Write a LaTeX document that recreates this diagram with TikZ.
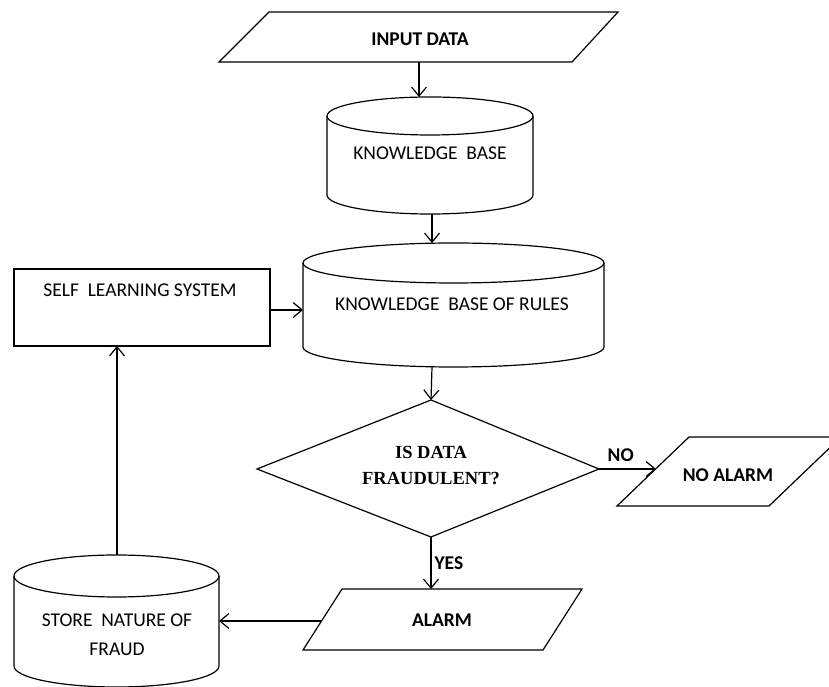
\documentclass[tikz,border=0pt]{standalone}
\usepackage{fontspec}
\setmainfont{Carlito}
\newfontfamily\serifx{Liberation Serif}
\usetikzlibrary{arrows.meta}
\begin{document}
\begin{tikzpicture}[x=1pt,y=1pt,
  shp/.style={draw=black, line width=1.2pt, line join=miter},
  conn/.style={draw=black, line width=1.2pt, -{Straight Barb[length=9pt,width=15pt,line width=1.2pt]}},
  lbl/.style={font=\fontsize{19.5}{23}\selectfont, inner sep=0pt, text=black},
  blbl/.style={font=\fontsize{19.5}{23}\selectfont\bfseries, inner sep=0pt, text=black},
  slbl/.style={font=\fontsize{18.5}{26}\selectfont\serifx\bfseries, inner sep=0pt, text=black, align=center}]
\useasboundingbox (0,0) rectangle (829,687);
\clip (0,0) rectangle (829,687);
\fill[white] (0,0) rectangle (829,687);

% INPUT DATA parallelogram
\draw[shp] (219,625) -- (269,675) -- (618,675) -- (572,625) -- cycle;
\node[blbl] (input) at (420,648) {INPUT DATA};
\coordinate (input-s) at (419,625);

% KNOWLEDGE BASE cylinder
\draw[shp] (430,571) ellipse [x radius=103, y radius=19];
\draw[shp] (327,571) -- (327,492) arc[start angle=180, end angle=360, x radius=103, y radius=19] -- (533,571);
\node[lbl] (kb) at (430,534) {KNOWLEDGE\ \ BASE};
\coordinate (kb-n) at (419,590);
\coordinate (kb-s) at (432,473);

% KNOWLEDGE BASE OF RULES cylinder
\draw[shp] (453.5,424) ellipse [x radius=150.5, y radius=20];
\draw[shp] (303,424) -- (303,340) arc[start angle=180, end angle=360, x radius=150.5, y radius=20] -- (604,424);
\node[lbl] (kbr) at (452,383) {KNOWLEDGE\ \ BASE OF RULES};
\coordinate (kbr-n) at (432,444);
\coordinate (kbr-w) at (303,377);
\coordinate (kbr-s) at (432,320);

% SELF LEARNING SYSTEM rectangle
\draw[shp] (14,341) rectangle (270,418);
\node[lbl] (sls) at (140,397) {SELF\ \ LEARNING SYSTEM};
\coordinate (sls-e) at (270,377);
\coordinate (sls-s) at (117,341);

% decision diamond
\draw[shp] (431,287) -- (599,218) -- (431,150) -- (257,218) -- cycle;
\node[slbl] (dec) at (431,221) {IS DATA\\FRAUDULENT?};
\coordinate (dec-n) at (431,287);
\coordinate (dec-e) at (599,218);
\coordinate (dec-s) at (431,150);

% NO ALARM parallelogram
\draw[shp] (617,181) -- (769,181) -- (841,250) -- (689,250) -- cycle;
\node[blbl] (noalarm) at (728,212) {NO ALARM};
\coordinate (noalarm-w) at (656,218);

% ALARM parallelogram
\draw[shp] (303,37) -- (543,37) -- (582,98) -- (342,98) -- cycle;
\node[blbl] (alarm) at (442,67) {ALARM};
\coordinate (alarm-n) at (431,98);
\coordinate (alarm-w) at (321.5,66);

% STORE NATURE OF FRAUD cylinder
\draw[shp] (116.5,111) ellipse [x radius=102.5, y radius=21];
\draw[shp] (14,111) -- (14,21) arc[start angle=180, end angle=360, x radius=102.5, y radius=21] -- (219,111);
\node[lbl, align=center, font=\fontsize{19.5}{29}\selectfont] (store) at (117,52) {STORE\ \ NATURE OF\\FRAUD};
\coordinate (store-n) at (117,132);
\coordinate (store-e) at (219,66);

% connectors
\draw[conn] (input-s) -- (kb-n);
\draw[conn] (kb-s) -- (kbr-n);
\draw[conn] (sls-e) -- (kbr-w);
\draw[conn] (kbr-s) -- (dec-n);
\draw[conn] (dec-e) -- node[blbl, above, pos=0.38, yshift=7pt] (nolbl) {NO} (noalarm-w);
\draw[conn] (dec-s) -- node[blbl, right, xshift=3pt, pos=0.5] (yeslbl) {YES} (alarm-n);
\draw[conn] (alarm-w) -- (store-e);
\draw[conn] (store-n) -- (sls-s);
\end{tikzpicture}
\end{document}
